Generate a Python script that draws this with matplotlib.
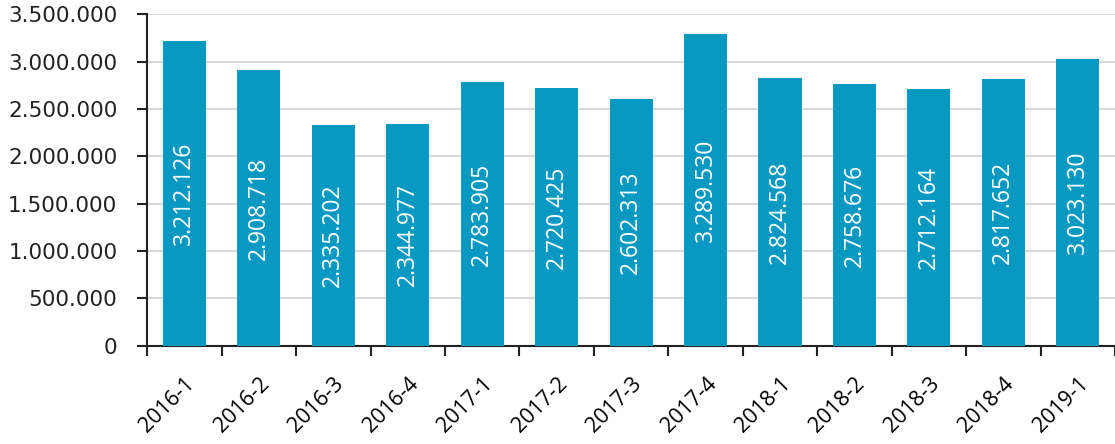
import matplotlib
matplotlib.use("Agg")
import matplotlib.pyplot as plt
import matplotlib.transforms as mtransforms
import numpy as np
from matplotlib.ticker import FuncFormatter, FixedLocator

categories = ["2016-1", "2016-2", "2016-3", "2016-4", "2017-1", "2017-2", "2017-3",
              "2017-4", "2018-1", "2018-2", "2018-3", "2018-4", "2019-1"]
values = [3212126, 2908718, 2335202, 2344977, 2783905, 2720425, 2602313,
          3289530, 2824568, 2758676, 2712164, 2817652, 3023130]
labels = ["3.212.126", "2.908.718", "2.335.202", "2.344.977", "2.783.905", "2.720.425",
          "2.602.313", "3.289.530", "2.824.568", "2.758.676", "2.712.164", "2.817.652",
          "3.023.130"]
yticks = [0, 500000, 1000000, 1500000, 2000000, 2500000, 3000000, 3500000]

color = "#0899C2"

fig = plt.figure(figsize=(11.15, 4.44), dpi=100)
ax = fig.add_axes([0.132, 0.221, 0.868, 0.747])

x = np.arange(len(categories))
bars = ax.bar(x, values, width=0.58, color=color, zorder=3)

for xi, v, lab in zip(x, values, labels):
    ax.text(xi, v / 2, lab, rotation=90, ha="center", va="center", color="white",
            fontsize=16.5, family=["Open Sans", "DejaVu Sans"], zorder=4)

ax.set_xlim(-0.5, len(categories) - 0.5)
ax.set_ylim(0, 3500000)
ax.set_yticks(yticks)
ax.yaxis.set_major_formatter(FuncFormatter(lambda v, p: f"{int(v):,}".replace(",", ".")))
ax.grid(axis="y", color="#d9d9d9", linewidth=1.5, zorder=0)

ax.set_xticks(x)
ax.set_xticklabels(categories, rotation=45, ha="right", rotation_mode="anchor",
                   fontsize=15.5, family=["Open Sans", "DejaVu Sans"])
offset = mtransforms.ScaledTranslation(6 / 100, 0, fig.dpi_scale_trans)
for lbl in ax.get_xticklabels():
    lbl.set_transform(lbl.get_transform() + offset)
ax.xaxis.set_minor_locator(FixedLocator(np.arange(-0.5, len(categories), 1.0)))
ax.tick_params(axis="x", which="major", length=0, pad=20)
ax.tick_params(axis="x", which="minor", length=7.5, width=1.5, color="#222222")
ax.tick_params(axis="y", length=7.5, width=1.5, color="#222222", labelsize=15.5, pad=14,
               labelcolor="#222222")

for s in ["top", "right"]:
    ax.spines[s].set_visible(False)
for s in ["left", "bottom"]:
    ax.spines[s].set_color("#222222")
    ax.spines[s].set_linewidth(1.5)

fig.savefig("out.png", dpi=100)
